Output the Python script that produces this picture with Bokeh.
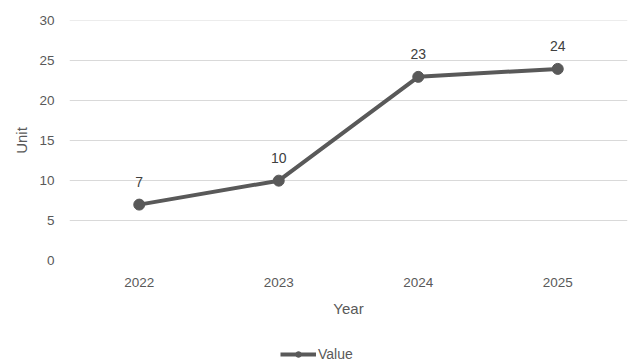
from bokeh.plotting import figure
from bokeh.layouts import column
from bokeh.models import Range1d, FactorRange, Legend, LegendItem, FixedTicker, ColumnDataSource
from bokeh.core.properties import value
from bokeh.embed import file_html
from bokeh.resources import INLINE

years = ["2022", "2023", "2024", "2025"]
values = [7, 10, 23, 24]
y_ticks = [0, 5, 10, 15, 20, 25, 30]
series_name = "Value"

FONT = "Liberation Sans"
LINE = "#595959"
TEXT = "#595959"

src = ColumnDataSource(dict(x=years, y=values, label=[str(v) for v in values]))

p = figure(
    width=632, height=330,
    x_range=FactorRange(*years),
    y_range=Range1d(0, 30.06),
    output_backend="svg",
    toolbar_location=None,
    min_border_left=69, min_border_right=5,
    min_border_top=20, min_border_bottom=70,
)
p.outline_line_color = None
p.background_fill_color = "white"
p.border_fill_color = "white"

# axes: no lines or ticks, only labels
p.yaxis.ticker = FixedTicker(ticks=y_ticks)
for ax in (p.xaxis[0], p.yaxis[0]):
    ax.axis_line_color = None
    ax.major_tick_line_color = None
    ax.minor_tick_line_color = None
    ax.major_tick_out = 0
    ax.major_tick_in = 0
    ax.major_label_text_color = TEXT
    ax.major_label_text_font = FONT
    ax.major_label_text_font_size = "13.5px"
    ax.axis_label_text_color = TEXT
    ax.axis_label_text_font = FONT
    ax.axis_label_text_font_size = "15px"
    ax.axis_label_text_font_style = "normal"
p.yaxis.major_label_standoff = 15
p.xaxis.major_label_standoff = 17
p.yaxis.axis_label = "Unit"
p.yaxis.axis_label_standoff = 6
p.xaxis.axis_label = "Year"
p.xaxis.axis_label_standoff = 10

p.xgrid.grid_line_color = None
p.ygrid.grid_line_color = "#d9d9d9"
p.ygrid.grid_line_width = 1

p.line("x", "y", source=src, line_color=LINE, line_width=4)
p.scatter("x", "y", source=src, size=11, fill_color=LINE, line_color=LINE)

# value labels above each point
p.text("x", "y", text="label", source=src, y_offset=-23,
       text_align="center", text_baseline="middle",
       text_color="#404040", text_font=value(FONT), text_font_size="14px")

# legend strip under the chart; its proxy glyphs hold no drawable data
leg = figure(width=632, height=33, output_backend="svg", toolbar_location=None,
             x_range=Range1d(0, 1), y_range=Range1d(0, 1),
             min_border=0)
leg.axis.visible = False
leg.grid.visible = False
leg.outline_line_color = None
proxy = ColumnDataSource(dict(x=[float("nan")], y=[float("nan")]))
l_line = leg.line("x", "y", source=proxy, line_color=LINE, line_width=4)
l_dot = leg.scatter("x", "y", source=proxy, size=11, fill_color=LINE, line_color=LINE)
legend = Legend(items=[LegendItem(label=series_name, renderers=[l_line, l_dot])],
                location=(211, 1), orientation="horizontal",
                border_line_color=None, background_fill_alpha=0,
                label_text_font=FONT, label_text_font_size="14px",
                label_text_color=TEXT, glyph_width=36, glyph_height=14,
                label_standoff=2, padding=0, margin=0)
leg.add_layout(legend)

open("out.html", "w").write(file_html(column(p, leg, spacing=0), INLINE))
